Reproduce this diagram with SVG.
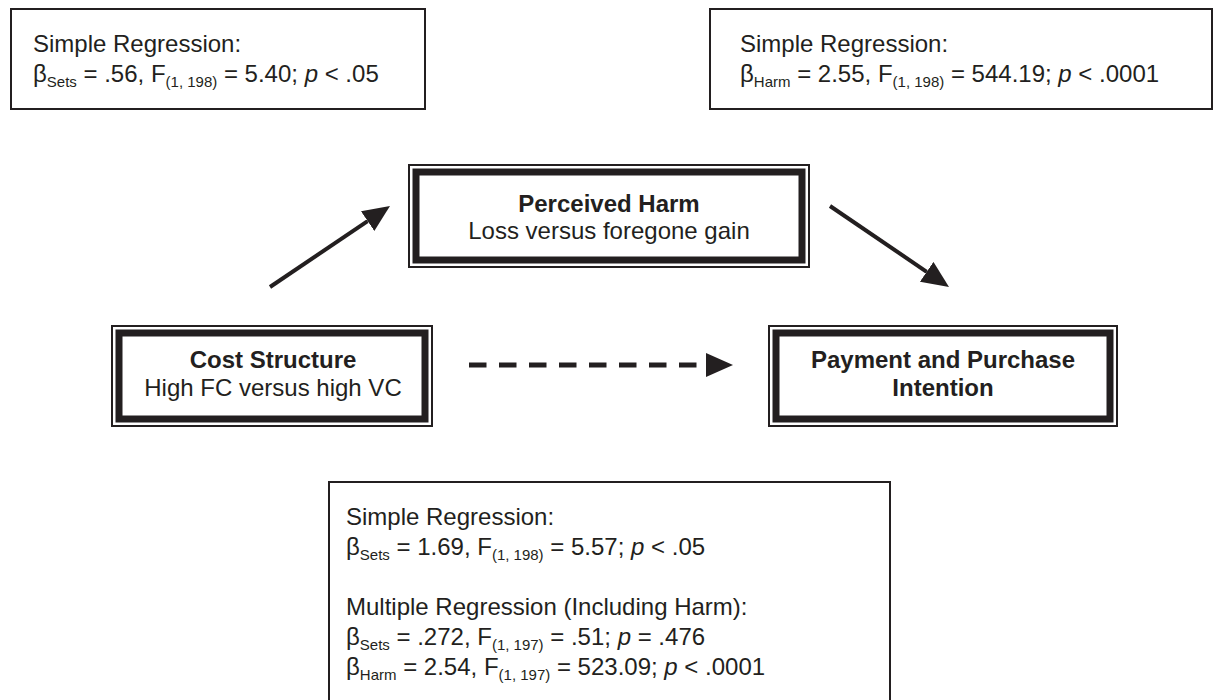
<svg xmlns="http://www.w3.org/2000/svg" width="1220" height="700" viewBox="0 0 1220 700">
<style>
text{font-family:"Liberation Sans",Arial,sans-serif;font-size:24px;fill:#231f20}
.b{font-weight:bold}
.sub{font-size:15px}
.it{font-style:italic}
.note{fill:#fff;stroke:#231f20;stroke-width:2}
.outer{fill:#fff;stroke:#231f20;stroke-width:2}
.inner{fill:none;stroke:#231f20;stroke-width:7}
.arrow{stroke:#231f20;stroke-width:4;fill:none}
.dash{stroke:#231f20;stroke-width:5;fill:none;stroke-dasharray:17.5 12.5}
</style>
<defs>
<marker id="ah" markerUnits="userSpaceOnUse" markerWidth="28" markerHeight="26" refX="0" refY="12" orient="auto">
<path d="M0,0 L27,12 L0,24 Z" fill="#231f20"/>
</marker>
</defs>
<rect width="1220" height="700" fill="#fff"/>

<g id="note-top-left">
<rect class="note" x="11" y="9" width="414" height="100"/>
<text x="33" y="52">Simple Regression:</text>
<text x="33" y="82">β<tspan class="sub" dy="5">Sets</tspan><tspan dy="-5"> = .56, F</tspan><tspan class="sub" dy="5">(1, 198)</tspan><tspan dy="-5"> = 5.40; </tspan><tspan class="it">p</tspan> &lt; .05</text>
</g>

<g id="note-top-right">
<rect class="note" x="710" y="9" width="502" height="100"/>
<text x="740" y="52">Simple Regression:</text>
<text x="740" y="82">β<tspan class="sub" dy="5">Harm</tspan><tspan dy="-5"> = 2.55, F</tspan><tspan class="sub" dy="5">(1, 198)</tspan><tspan dy="-5"> = 544.19; </tspan><tspan class="it">p</tspan> &lt; .0001</text>
</g>

<g id="node-harm">
<rect class="outer" x="409" y="165" width="400" height="102"/>
<rect class="inner" x="416" y="172" width="386" height="88"/>
<text x="609" y="212" text-anchor="middle" class="b">Perceived Harm</text>
<text x="609" y="239" text-anchor="middle">Loss versus foregone gain</text>
</g>

<g id="node-cost">
<rect class="outer" x="112" y="326" width="320" height="100"/>
<rect class="inner" x="119" y="333" width="306" height="86"/>
<text x="273" y="368" text-anchor="middle" class="b">Cost Structure</text>
<text x="273" y="396" text-anchor="middle">High FC versus high VC</text>
</g>

<g id="node-payment">
<rect class="outer" x="769" y="326" width="348" height="100"/>
<rect class="inner" x="776" y="333" width="334" height="86"/>
<text x="943" y="368" text-anchor="middle" class="b">Payment and Purchase</text>
<text x="943" y="396" text-anchor="middle" class="b">Intention</text>
</g>

<g id="note-bottom">
<rect class="note" x="329" y="482" width="561" height="230"/>
<text x="346" y="525">Simple Regression:</text>
<text x="346" y="555">β<tspan class="sub" dy="5">Sets</tspan><tspan dy="-5"> = 1.69, F</tspan><tspan class="sub" dy="5">(1, 198)</tspan><tspan dy="-5"> = 5.57; </tspan><tspan class="it">p</tspan> &lt; .05</text>
<text x="346" y="615">Multiple Regression (Including Harm):</text>
<text x="346" y="645">β<tspan class="sub" dy="5">Sets</tspan><tspan dy="-5"> = .272, F</tspan><tspan class="sub" dy="5">(1, 197)</tspan><tspan dy="-5"> = .51; </tspan><tspan class="it">p</tspan> = .476</text>
<text x="346" y="675">β<tspan class="sub" dy="5">Harm</tspan><tspan dy="-5"> = 2.54, F</tspan><tspan class="sub" dy="5">(1, 197)</tspan><tspan dy="-5"> = 523.09; </tspan><tspan class="it">p</tspan> &lt; .0001</text>
</g>

<g id="connectors">
<line class="arrow" x1="270" y1="287" x2="367.6" y2="221.1" marker-end="url(#ah)"/>
<line class="arrow" x1="830" y1="206" x2="926.7" y2="271.8" marker-end="url(#ah)"/>
<line class="dash" x1="469" y1="365" x2="706" y2="365" marker-end="url(#ah)"/>
</g>
</svg>
